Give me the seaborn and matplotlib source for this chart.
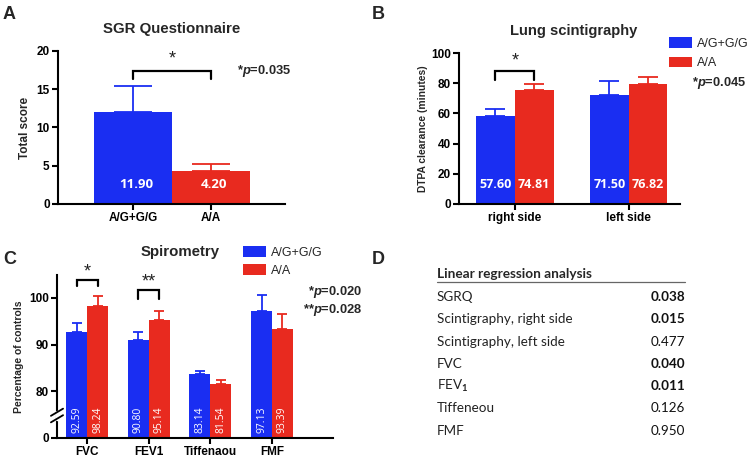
import matplotlib
matplotlib.use("Agg")
import matplotlib.pyplot as plt
import numpy as np
import pandas as pd
import seaborn as sns

# ---------------- data ----------------
genotypes = ["A/G+G/G", "A/A"]
palette = ["#1a2ef2", "#e82a1f"]

# A: SGR questionnaire
sgr_values = [12.0, 4.3]
sgr_err_top = [15.4, 5.2]
sgr_labels = ["11.90", "4.20"]
sgr_p = "0.035"

# B: lung scintigraphy
scint_sides = ["right side", "left side"]
scint_ag = [58.4, 72.3]
scint_aa = [75.5, 79.3]
scint_ag_err_top = [62.9, 81.3]
scint_aa_err_top = [79.5, 84.1]
scint_ag_labels = ["57.60", "71.50"]
scint_aa_labels = ["74.81", "76.82"]
scint_p = "0.045"

# C: spirometry
spiro_params = ["FVC", "FEV1", "Tiffenaou", "FMF"]
spiro_ag = [92.7, 90.9, 83.6, 97.2]
spiro_aa = [98.3, 95.2, 81.6, 93.4]
spiro_ag_err_top = [94.7, 92.8, 84.4, 100.7]
spiro_aa_err_top = [100.3, 97.1, 82.4, 96.6]
spiro_ag_labels = ["92.59", "90.80", "83.14", "97.13"]
spiro_aa_labels = ["98.24", "95.14", "81.54", "93.39"]
spiro_p1 = "0.020"
spiro_p2 = "0.028"

# D: linear regression table
reg_names = ["SGRQ", "Scintigraphy, right side", "Scintigraphy, left side",
             "FVC", r"FEV$_\mathrm{1}$", "Tiffeneou", "FMF"]
reg_pvalues = ["0.038", "0.015", "0.477", "0.040", "0.011", "0.126", "0.950"]
reg_bold = [True, True, False, True, True, False, False]

# ---------------- style ----------------
sns.set_theme(style="ticks")
plt.rcParams.update({
    "font.family": ["Liberation Sans", "DejaVu Sans"],
    "font.weight": "bold",
    "axes.linewidth": 1.5,
    "axes.edgecolor": "black",
    "xtick.color": "black", "ytick.color": "black",
    "xtick.labelsize": 8.5, "ytick.labelsize": 8.5,
    "xtick.major.width": 1.5, "ytick.major.width": 1.5,
    "xtick.major.size": 4, "ytick.major.size": 4,
    "xtick.major.pad": 2, "ytick.major.pad": 2,
    "legend.fontsize": 9,
    "mathtext.fontset": "custom",
    "mathtext.bfit": "Liberation Sans:italic:bold",
    "mathtext.rm": "Lato",
})

W, H = 748, 458
fig = plt.figure(figsize=(W / 100, H / 100), dpi=100)


def rect(l, t, r, b):
    return [l / W, 1 - b / H, (r - l) / W, (b - t) / H]


def fx(x):
    return x / W


def fy(y):
    return 1 - y / H


def bars_sorted(ax):
    ps = [p for p in ax.patches if p.get_height() > 0]
    return sorted(ps, key=lambda p: p.get_x())


def finish_axes(ax):
    ax.tick_params(labelsize=8.5)
    ax.set_xlabel("")
    ax.set_ylabel("")
    sns.despine(ax=ax)


def add_errs(ax, bars, tops, capsize):
    for p, top in zip(bars, tops):
        cx = p.get_x() + p.get_width() / 2
        h = p.get_height()
        ax.errorbar([cx], [h], yerr=[[0], [top - h]], fmt="none",
                    ecolor=p.get_facecolor(), elinewidth=1.3,
                    capsize=capsize, capthick=1.3, zorder=3)


def bracket(ax, x0, x1, ybot, ytop, star, ystar, size=13):
    ax.plot([x0, x0, x1, x1], [ybot, ytop, ytop, ybot], color="black",
            lw=1.6, clip_on=False, solid_joinstyle="miter", zorder=4)
    ax.text((x0 + x1) / 2, ystar, star, ha="center", va="center",
            fontsize=size, fontweight="normal", color="#222222",
            clip_on=False)


def ptext(x, y, stars, p, ha="left"):
    fig.text(fx(x), fy(y), stars + r"$\mathbfit{p}$=" + p, ha=ha, va="center",
             fontsize=9.3, fontweight="bold")


def relegend(ax, x, y, spacing):
    old = ax.get_legend()
    handles = old.legend_handles
    labels = [t.get_text() for t in old.get_texts()]
    old.remove()
    ax.legend(handles, labels, loc="upper left", bbox_to_anchor=(fx(x), fy(y)),
              bbox_transform=fig.transFigure, frameon=False,
              prop={"size": 9, "weight": "normal"}, handlelength=1.8,
              handleheight=0.95, handletextpad=0.4, labelspacing=spacing,
              borderpad=0, borderaxespad=0)


# ---------------- panel A ----------------
axA = fig.add_axes(rect(58, 51, 285, 204))
dfA = pd.DataFrame({"genotype": genotypes, "score": sgr_values})
sns.barplot(data=dfA, x="genotype", y="score", hue="genotype",
            palette=palette, saturation=1, width=1.0, errorbar=None,
            legend=False, linewidth=0, ax=axA)
axA.set_xlim(-0.96, 1.95)
axA.set_ylim(0, 20)
axA.set_yticks([0, 5, 10, 15, 20])
finish_axes(axA)
barsA = bars_sorted(axA)
add_errs(axA, barsA, sgr_err_top, 14)
for p, lab in zip(barsA, sgr_labels):
    axA.text(p.get_x() + p.get_width() / 2 + 0.04, 2.5, lab, ha="center",
             va="center", color="white", fontsize=9.5, fontweight="bold",
             family=["Open Sans", "DejaVu Sans"])
cA = [p.get_x() + p.get_width() / 2 for p in barsA]
bracket(axA, cA[0], cA[1], 16.3, 17.4, "*", 19.0)
fig.text(fx(172), fy(29), "SGR Questionnaire", ha="center", va="center",
         fontsize=10.8, fontweight="bold")
fig.text(fx(25), fy(128), "Total score", rotation=90, ha="center",
         va="center", fontsize=8.5, fontweight="bold")
ptext(237, 71, "*", sgr_p)

# ---------------- panel B ----------------
axB = fig.add_axes(rect(459, 53, 680, 204))
dfB = pd.DataFrame({
    "side": scint_sides * 2,
    "genotype": [genotypes[0]] * 2 + [genotypes[1]] * 2,
    "value": scint_ag + scint_aa,
})
sns.barplot(data=dfB, x="side", y="value", hue="genotype",
            hue_order=genotypes, palette=palette, saturation=1, width=0.68,
            gap=0, errorbar=None, linewidth=0, ax=axB)
axB.set_xlim(-0.49, 1.45)
axB.set_ylim(0, 100)
axB.set_yticks([0, 20, 40, 60, 80, 100])
finish_axes(axB)
barsB = bars_sorted(axB)
topsB = [v for pair in zip(scint_ag_err_top, scint_aa_err_top) for v in pair]
labsB = [v for pair in zip(scint_ag_labels, scint_aa_labels) for v in pair]
add_errs(axB, barsB, topsB, 7)
for p, lab in zip(barsB, labsB):
    axB.text(p.get_x() + p.get_width() / 2, 13.2, lab, ha="center",
             va="center", color="white", fontsize=9, fontweight="bold",
             family=["Open Sans", "DejaVu Sans"])
cB = [p.get_x() + p.get_width() / 2 for p in barsB]
bracket(axB, cB[0], cB[1], 82, 88, "*", 95)
relegend(axB, 669, 37, 0.55)
fig.text(fx(574), fy(31), "Lung scintigraphy", ha="center", va="center",
         fontsize=10.6, fontweight="bold")
fig.text(fx(423), fy(129), "DTPA clearance (minutes)", rotation=90,
         ha="center", va="center", fontsize=7.4, fontweight="bold")
ptext(692, 83, "*", scint_p)

# ---------------- panel C ----------------
def fwd(y):
    y = np.asarray(y, dtype=float)
    return np.where(y < 80, 70 + y / 8.0, y)


def inv(y):
    y = np.asarray(y, dtype=float)
    return np.where(y < 80, (y - 70) * 8.0, y)


axC = fig.add_axes(rect(57, 275, 333, 438))
dfC = pd.DataFrame({
    "param": spiro_params * 2,
    "genotype": [genotypes[0]] * 4 + [genotypes[1]] * 4,
    "value": spiro_ag + spiro_aa,
})
sns.barplot(data=dfC, x="param", y="value", hue="genotype",
            hue_order=genotypes, palette=palette, saturation=1, width=0.68,
            gap=0, errorbar=None, linewidth=0, ax=axC)
axC.set_yscale("function", functions=(fwd, inv))
axC.set_xlim(-0.49, 3.99)
axC.set_ylim(0, 104.9)
axC.set_yticks([0, 80, 90, 100])
axC.set_yticklabels(["0", "80", "90", "100"])
axC.minorticks_off()
finish_axes(axC)
barsC = bars_sorted(axC)
topsC = [v for pair in zip(spiro_ag_err_top, spiro_aa_err_top) for v in pair]
labsC = [v for pair in zip(spiro_ag_labels, spiro_aa_labels) for v in pair]
add_errs(axC, barsC, topsC, 3.6)
for p, lab in zip(barsC, labsC):
    axC.text(p.get_x() + p.get_width() / 2, 31, lab, ha="center",
             va="center", rotation=90, color="white", fontsize=7.5,
             fontweight="normal", family=["Open Sans", "DejaVu Sans"])
cC = [p.get_x() + p.get_width() / 2 for p in barsC]
bracket(axC, cC[0], cC[1], 102.5, 103.9, "*", 105.6)
bracket(axC, cC[2], cC[3], 99.7, 101.6, "**", 103.4)
# axis break marks
axC.plot([0, 0], [0.118, 0.158], transform=axC.transAxes, color="white",
         lw=2.5, clip_on=False, zorder=5)
for yc in (0.118, 0.158):
    axC.plot([-0.022, 0.022], [yc - 0.022, yc + 0.022],
             transform=axC.transAxes, color="black", lw=1.3, clip_on=False,
             zorder=6)
relegend(axC, 243, 246, 0.45)
fig.text(fx(180), fy(252), "Spirometry", ha="center", va="center",
         fontsize=10.8, fontweight="bold")
fig.text(fx(19), fy(357), "Percentage of controls", rotation=90,
         ha="center", va="center", fontsize=7.5, fontweight="bold")
ptext(362, 292, "*", spiro_p1, ha="right")
ptext(362, 310, "**", spiro_p2, ha="right")

# ---------------- panel D ----------------
tab_font = ["Lato", "DejaVu Sans"]
fig.text(fx(437), fy(274), "Linear regression analysis", ha="left",
         va="center", fontsize=9.8, fontweight="bold", family=tab_font)
fig.add_artist(plt.Line2D([fx(437), fx(685)], [fy(282), fy(282)],
                          color="#666666", lw=0.9))
row_y0, row_dy = 297, 22.3
for i, (name, pv, bold) in enumerate(zip(reg_names, reg_pvalues, reg_bold)):
    y = row_y0 + i * row_dy
    fig.text(fx(437), fy(y), name, ha="left", va="center", fontsize=9.7,
             fontweight="normal", family=tab_font, color="#222222")
    fig.text(fx(685), fy(y), pv, ha="right", va="center", fontsize=9.7,
             family=tab_font, fontweight="bold" if bold else "normal",
             color="#111111")

# ---------------- panel letters ----------------
for letter, x, y in (("A", 3, 6), ("B", 372, 6), ("C", 3, 251), ("D", 372, 251)):
    fig.text(fx(x), fy(y), letter, ha="left", va="top", fontsize=13,
             fontweight="bold")

fig.savefig("out.png", dpi=100)
